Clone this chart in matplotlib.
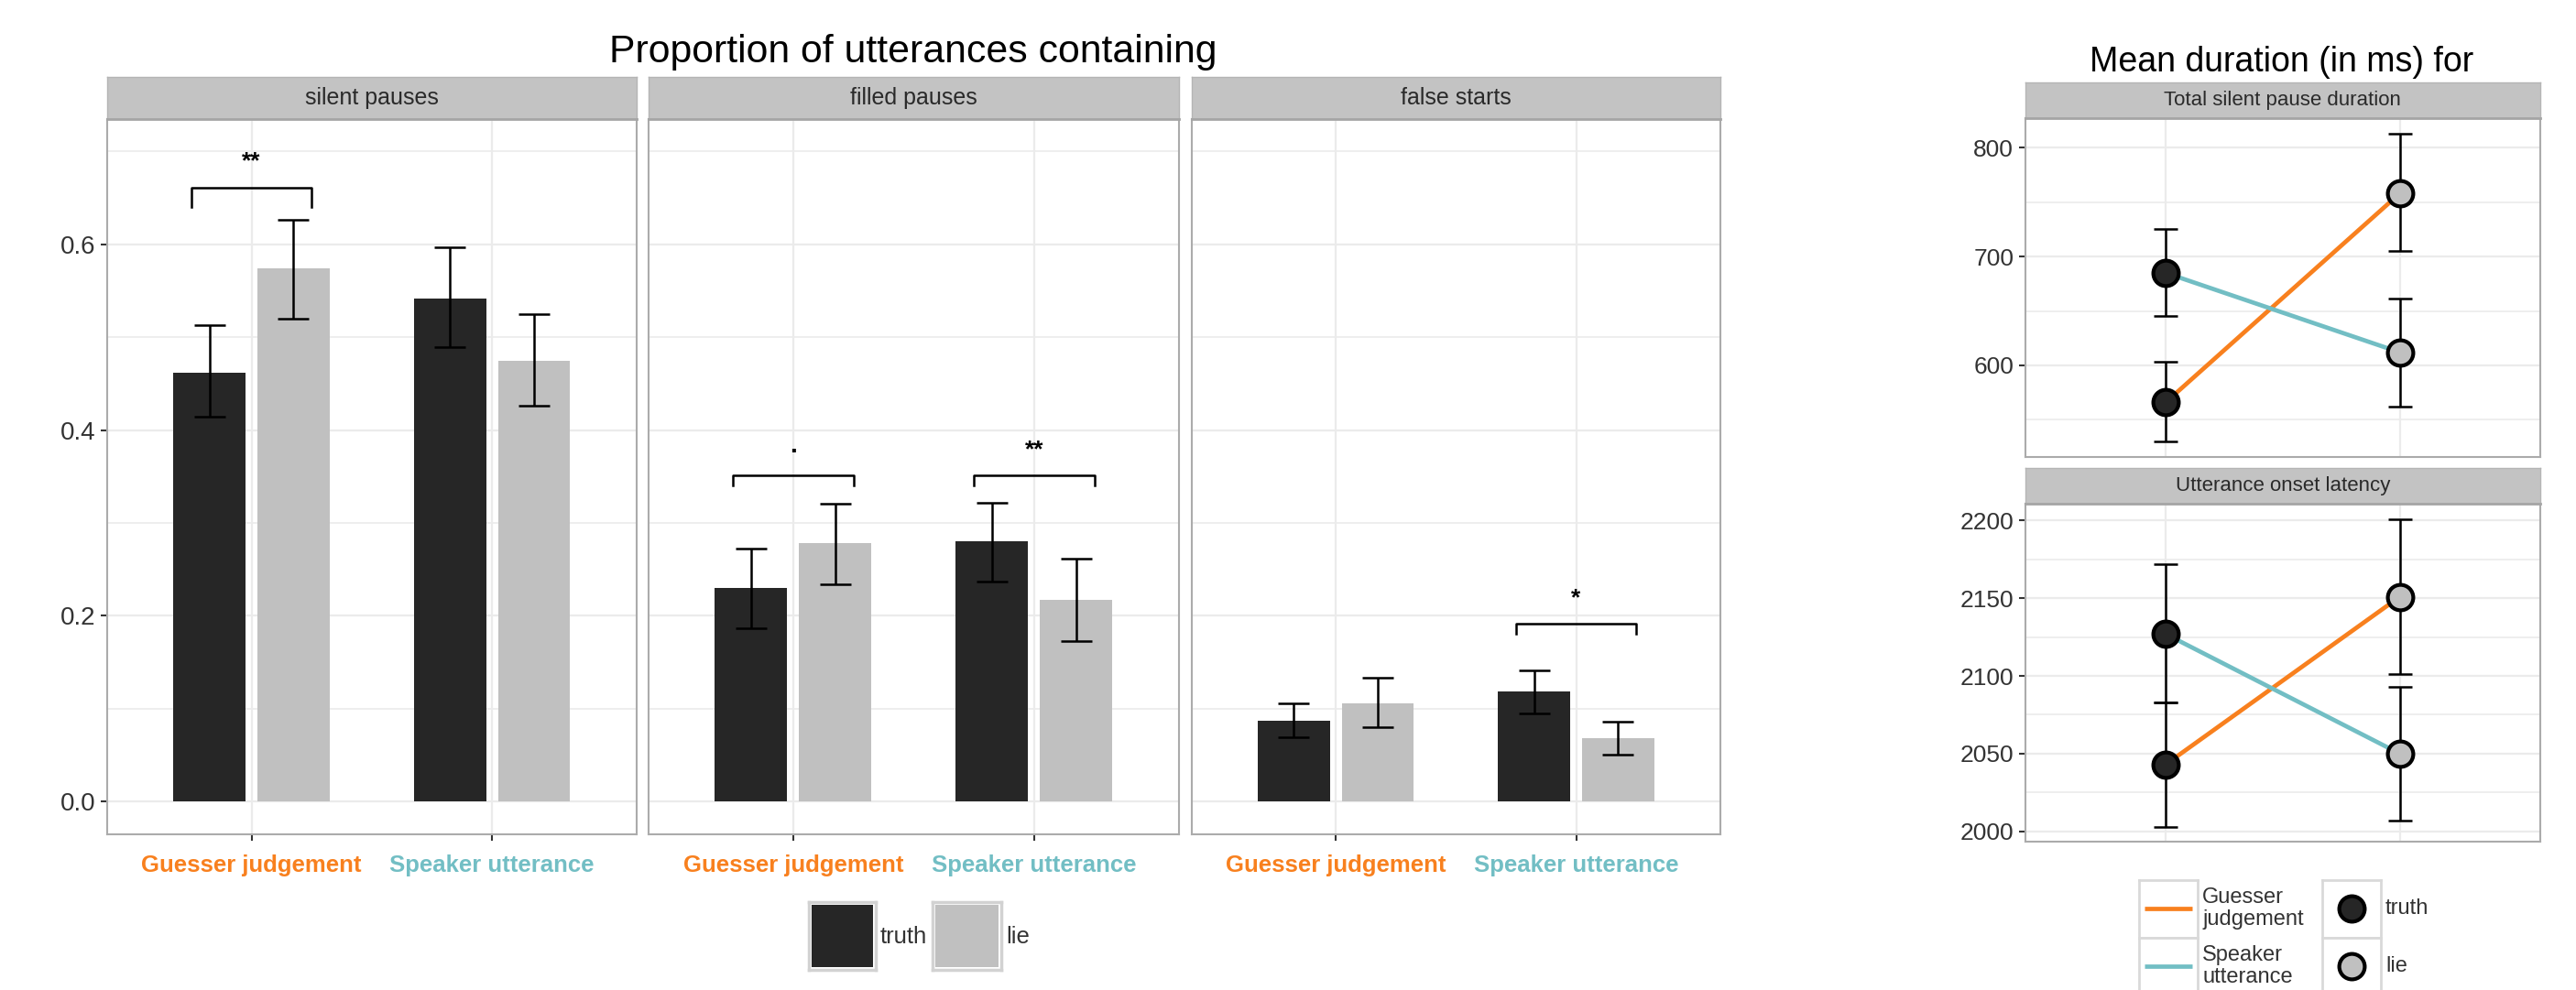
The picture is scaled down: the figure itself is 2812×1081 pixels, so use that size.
import matplotlib
matplotlib.use('Agg')
import matplotlib.pyplot as plt
import numpy as np
from matplotlib.patches import Rectangle

plt.rcParams['font.family'] = ['Liberation Sans', 'DejaVu Sans']

W, H, DPI = 2812, 1081, 100

# ---------------- data ----------------
groups = ['Guesser judgement', 'Speaker utterance']
group_colors = ['#F8801E', '#72BEC4']
conditions = ['truth', 'lie']
cond_colors = ['#262626', '#C0C0C0']
facets = ['silent pauses', 'filled pauses', 'false starts']

# proportions: rows = facets, cols = groups (Guesser judgement, Speaker utterance)
truth_mean = [[0.462, 0.542], [0.230, 0.280], [0.0865, 0.118]]
truth_lo   = [[0.414, 0.489], [0.186, 0.237], [0.069, 0.095]]
truth_hi   = [[0.513, 0.597], [0.272, 0.322], [0.1056, 0.141]]
lie_mean   = [[0.574, 0.475], [0.278, 0.217], [0.1056, 0.0678]]
lie_lo     = [[0.520, 0.426], [0.234, 0.173], [0.080, 0.050]]
lie_hi     = [[0.626, 0.525], [0.321, 0.261], [0.133, 0.0855]]

# significance brackets
sig_facet = [0, 1, 1, 2]
sig_group = [0, 0, 1, 1]
sig_label = ['**', '.', '**', '*']
sig_y     = [0.661, 0.351, 0.351, 0.191]
sig_drop  = [0.021, 0.011, 0.011, 0.010]

# durations (ms): rows = groups, cols = conditions (truth, lie)
dur_titles = ['Total silent pause duration', 'Utterance onset latency']
sil_mean = [[566, 758], [685, 612]]
sil_lo   = [[530, 705], [645, 562]]
sil_hi   = [[603, 813], [725, 661]]
lat_mean = [[2043, 2151], [2127, 2050]]
lat_lo   = [[2003, 2101], [2083, 2007]]
lat_hi   = [[2083, 2201], [2172, 2093]]
sil_ticks = [600, 700, 800]
lat_ticks = [2000, 2050, 2100, 2150, 2200]

# ---------------- style ----------------
GRID = '#EBEBEB'
BORDER = '#ABABAB'
STRIP = '#C3C3C3'
TXT = '#333333'

fig = plt.figure(figsize=(W / DPI, H / DPI), dpi=DPI)


def px_axes(x0, y0, x1, y1, **kw):
    return fig.add_axes([x0 / W, 1 - y1 / H, (x1 - x0) / W, (y1 - y0) / H], **kw)


def strip(x0, y0, x1, y1, label, size):
    s = px_axes(x0, y0, x1, y1)
    s.set_facecolor(STRIP)
    s.set_xticks([]); s.set_yticks([])
    for sp in s.spines.values():
        sp.set_color('#B5B5B5'); sp.set_linewidth(1.0)
    s.spines['bottom'].set_color('#A5A5A5'); s.spines['bottom'].set_linewidth(2.0)
    s.text(0.5, 0.5, label, ha='center', va='center', fontsize=size, color='#2A2A2A',
           transform=s.transAxes)
    return s


def style_panel(ax):
    for sp in ax.spines.values():
        sp.set_color(BORDER); sp.set_linewidth(1.5)
    ax.set_axisbelow(True)


# ---------------- left: proportions ----------------
panel_x = [(117, 694.6), (708, 1286.6), (1300.8, 1878)]
panel_y = (130, 910.5)
strip_y = (84, 130)
xg = np.arange(len(groups))
dodge, bw = 0.175, 0.30

for i, facet in enumerate(facets):
    x0, x1 = panel_x[i]
    ax = px_axes(x0, panel_y[0], x1, panel_y[1])
    style_panel(ax)
    ax.set_xlim(-0.6, 1.6)
    ax.set_ylim(-0.035, 0.735)
    ax.set_yticks([0.0, 0.2, 0.4, 0.6])
    ax.set_yticks([0.1, 0.3, 0.5, 0.7], minor=True)
    ax.set_xticks(xg)
    ax.grid(True, which='major', color=GRID, lw=1.6)
    ax.grid(True, which='minor', axis='y', color=GRID, lw=1.2)

    series = [(truth_mean[i], truth_lo[i], truth_hi[i], -dodge, cond_colors[0]),
              (lie_mean[i], lie_lo[i], lie_hi[i], dodge, cond_colors[1])]
    for m, lo, hi, off, col in series:
        m = np.array(m); lo = np.array(lo); hi = np.array(hi)
        ax.bar(xg + off, m, width=bw, color=col, zorder=2)
        ax.errorbar(xg + off, m, yerr=[m - lo, hi - m], fmt='none', ecolor='black',
                    elinewidth=1.8, capsize=12.5, capthick=1.8, zorder=3)

    for f, g, lab, y, d in zip(sig_facet, sig_group, sig_label, sig_y, sig_drop):
        if f != i:
            continue
        ax.plot([g - 0.25, g - 0.25, g + 0.25, g + 0.25], [y - d, y, y, y - d],
                color='black', lw=1.8, zorder=3)
        if lab == '.':
            ax.text(g, y + 0.025, lab, ha='center', va='baseline', fontsize=20,
                    fontweight='bold', color='black')
        else:
            ax.text(g, y + 0.021, lab, ha='center', va='baseline', fontsize=19,
                    fontweight='bold', color='black')

    ax.tick_params(axis='both', which='major', length=5, width=1.5, color=TXT,
                   labelsize=20, labelcolor=TXT, pad=4)
    ax.tick_params(axis='y', which='minor', length=0)
    ax.tick_params(axis='x', pad=11)
    ax.set_xticklabels(groups, fontsize=18.5, fontweight='bold')
    for lbl, c in zip(ax.get_xticklabels(), group_colors):
        lbl.set_color(c)
    if i == 0:
        ax.set_yticklabels(['0.0', '0.2', '0.4', '0.6'])
    else:
        ax.tick_params(axis='y', which='both', length=0, labelleft=False)

    strip(x0, strip_y[0], x1, strip_y[1], facet, 18)

fig.text(997 / W, 1 - 57 / H, 'Proportion of utterances containing', ha='center',
         va='center', fontsize=30.8, color='black')

# left legend
for (kx0, kx1), col, lab in zip([(883, 956), (1018, 1093)], cond_colors, conditions):
    k = px_axes(kx0, 985, kx1, 1059)
    k.set_xlim(0, 1); k.set_ylim(0, 1)
    k.set_xticks([]); k.set_yticks([])
    for sp in k.spines.values():
        sp.set_color('#D2D2D2'); sp.set_linewidth(2.5)
    k.add_patch(Rectangle((0.04, 0.04), 0.92, 0.92, facecolor=col, edgecolor='none'))
    fig.text((kx1 + 5) / W, 1 - 1023 / H, lab, ha='left', va='center', fontsize=18.5,
             color=TXT)

# ---------------- right: durations ----------------
rx0, rx1 = 2210.7, 2773
right_panels = [((90.4, 129), (129, 499), sil_mean, sil_lo, sil_hi, sil_ticks, 50),
                ((511, 550), (550, 919.4), lat_mean, lat_lo, lat_hi, lat_ticks, 25)]
xc = np.array([1, 2])

for j, (sy, py, mean, lo, hi, ticks, minor_step) in enumerate(right_panels):
    ax = px_axes(rx0, py[0], rx1, py[1])
    style_panel(ax)
    ax.set_xlim(0.4, 2.6)
    allv = np.concatenate([np.ravel(lo), np.ravel(hi)])
    rng = allv.max() - allv.min()
    ax.set_yticks(ticks)
    ax.set_yticks(np.arange(ticks[0] - minor_step, ticks[-1] + 2 * minor_step, 2 * minor_step),
                  minor=True)
    ax.set_ylim(allv.min() - 0.05 * rng, allv.max() + 0.05 * rng)
    ax.set_xticks(xc)
    ax.grid(True, which='major', color=GRID, lw=1.6)
    ax.grid(True, which='minor', axis='y', color=GRID, lw=1.2)
    for g in range(len(groups)):
        m = np.array(mean[g]); l = np.array(lo[g]); h = np.array(hi[g])
        ax.plot(xc, m, color=group_colors[g], lw=3.4, zorder=2, solid_capstyle='butt')
        ax.errorbar(xc, m, yerr=[m - l, h - m], fmt='none', ecolor='black',
                    elinewidth=1.8, capsize=9.5, capthick=1.8, zorder=3)
        for c in range(len(conditions)):
            ax.plot(xc[c], m[c], 'o', ms=20, mfc=cond_colors[c], mec='black', mew=3,
                    zorder=4)
    ax.tick_params(axis='y', which='major', length=5, width=1.5, color=TXT,
                   labelsize=19, labelcolor=TXT, pad=4)
    ax.tick_params(axis='y', which='minor', length=0)
    ax.tick_params(axis='x', which='both', length=0, labelbottom=False)
    strip(rx0, sy[0], rx1, sy[1], dur_titles[j], 16)

fig.text(2491 / W, 1 - 68 / H, 'Mean duration (in ms) for', ha='center', va='center',
         fontsize=27, color='black')

# right legends
leg_rows = [(960.5, 1023.5), (1023.5, 1086.5)]
group_leg_labels = ['Guesser\njudgement', 'Speaker\nutterance']
for (ky0, ky1), col, lab in zip(leg_rows, group_colors, group_leg_labels):
    k = px_axes(2335, ky0, 2399, ky1)
    k.set_xlim(0, 1); k.set_ylim(0, 1)
    k.set_xticks([]); k.set_yticks([])
    for sp in k.spines.values():
        sp.set_color('#D9D9D9'); sp.set_linewidth(2)
    k.plot([0.1, 0.9], [0.5, 0.5], color=col, lw=3.4, solid_capstyle='butt')
    fig.text(2404 / W, 1 - (ky0 + ky1) / 2 / H, lab, ha='left', va='center', fontsize=17,
             color=TXT, linespacing=1.12)
for (ky0, ky1), col, lab in zip(leg_rows, cond_colors, conditions):
    k = px_axes(2535, ky0, 2599, ky1)
    k.set_xlim(0, 1); k.set_ylim(0, 1)
    k.set_xticks([]); k.set_yticks([])
    for sp in k.spines.values():
        sp.set_color('#D9D9D9'); sp.set_linewidth(2)
    k.plot([0.5], [0.5], 'o', ms=20, mfc=col, mec='black', mew=3)
    fig.text(2604 / W, 1 - (ky0 + ky1) / 2 / H, lab, ha='left', va='center', fontsize=17,
             color=TXT)

fig.savefig('out.png', dpi=DPI)
